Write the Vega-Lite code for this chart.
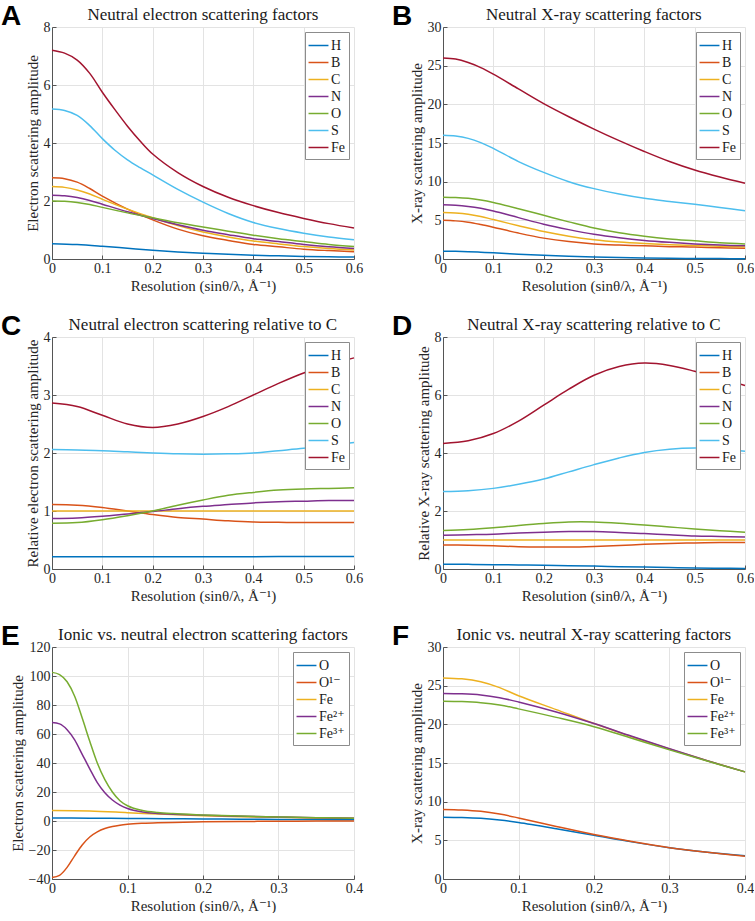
{
  "$schema": "https://vega.github.io/schema/vega-lite/v6.json",
  "background": "white",
  "padding": {"left": 1, "top": 3, "right": 0, "bottom": 0},
  "spacing": 20,
  "resolve": {"scale": {"x": "independent", "y": "independent", "color": "independent"}, "axis": {"x": "independent", "y": "independent"}, "legend": {"color": "independent"}},
  "datasets": {
    "a": [
      {"s":0,"v":0.53,"el":"H"},{"s":0.05,"v":0.5,"el":"H"},{"s":0.1,"v":0.44,"el":"H"},{"s":0.15,"v":0.37,"el":"H"},{"s":0.2,"v":0.3,"el":"H"},{"s":0.25,"v":0.245,"el":"H"},{"s":0.3,"v":0.2,"el":"H"},{"s":0.35,"v":0.16,"el":"H"},{"s":0.4,"v":0.13,"el":"H"},{"s":0.45,"v":0.11,"el":"H"},{"s":0.5,"v":0.09,"el":"H"},{"s":0.55,"v":0.077,"el":"H"},{"s":0.6,"v":0.066,"el":"H"},
      {"s":0,"v":2.8,"el":"B"},{"s":0.025,"v":2.77,"el":"B"},{"s":0.05,"v":2.65,"el":"B"},{"s":0.075,"v":2.43,"el":"B"},{"s":0.1,"v":2.17,"el":"B"},{"s":0.15,"v":1.72,"el":"B"},{"s":0.2,"v":1.35,"el":"B"},{"s":0.25,"v":1.03,"el":"B"},{"s":0.3,"v":0.8,"el":"B"},{"s":0.35,"v":0.64,"el":"B"},{"s":0.4,"v":0.5,"el":"B"},{"s":0.45,"v":0.42,"el":"B"},{"s":0.5,"v":0.34,"el":"B"},{"s":0.55,"v":0.29,"el":"B"},{"s":0.6,"v":0.25,"el":"B"},
      {"s":0,"v":2.5,"el":"C"},{"s":0.025,"v":2.47,"el":"C"},{"s":0.05,"v":2.38,"el":"C"},{"s":0.075,"v":2.24,"el":"C"},{"s":0.1,"v":2.06,"el":"C"},{"s":0.15,"v":1.72,"el":"C"},{"s":0.2,"v":1.42,"el":"C"},{"s":0.25,"v":1.15,"el":"C"},{"s":0.3,"v":0.93,"el":"C"},{"s":0.35,"v":0.76,"el":"C"},{"s":0.4,"v":0.62,"el":"C"},{"s":0.45,"v":0.52,"el":"C"},{"s":0.5,"v":0.43,"el":"C"},{"s":0.55,"v":0.36,"el":"C"},{"s":0.6,"v":0.31,"el":"C"},
      {"s":0,"v":2.2,"el":"N"},{"s":0.025,"v":2.18,"el":"N"},{"s":0.05,"v":2.12,"el":"N"},{"s":0.075,"v":2.02,"el":"N"},{"s":0.1,"v":1.89,"el":"N"},{"s":0.15,"v":1.63,"el":"N"},{"s":0.2,"v":1.4,"el":"N"},{"s":0.25,"v":1.18,"el":"N"},{"s":0.3,"v":0.99,"el":"N"},{"s":0.35,"v":0.84,"el":"N"},{"s":0.4,"v":0.7,"el":"N"},{"s":0.45,"v":0.6,"el":"N"},{"s":0.5,"v":0.5,"el":"N"},{"s":0.55,"v":0.42,"el":"N"},{"s":0.6,"v":0.36,"el":"N"},
      {"s":0,"v":2.0,"el":"O"},{"s":0.025,"v":1.99,"el":"O"},{"s":0.05,"v":1.95,"el":"O"},{"s":0.075,"v":1.88,"el":"O"},{"s":0.1,"v":1.78,"el":"O"},{"s":0.15,"v":1.59,"el":"O"},{"s":0.2,"v":1.42,"el":"O"},{"s":0.25,"v":1.25,"el":"O"},{"s":0.3,"v":1.1,"el":"O"},{"s":0.35,"v":0.96,"el":"O"},{"s":0.4,"v":0.82,"el":"O"},{"s":0.45,"v":0.7,"el":"O"},{"s":0.5,"v":0.6,"el":"O"},{"s":0.55,"v":0.5,"el":"O"},{"s":0.6,"v":0.43,"el":"O"},
      {"s":0,"v":5.17,"el":"S"},{"s":0.025,"v":5.12,"el":"S"},{"s":0.05,"v":4.95,"el":"S"},{"s":0.075,"v":4.6,"el":"S"},{"s":0.1,"v":4.15,"el":"S"},{"s":0.125,"v":3.75,"el":"S"},{"s":0.15,"v":3.42,"el":"S"},{"s":0.175,"v":3.15,"el":"S"},{"s":0.2,"v":2.9,"el":"S"},{"s":0.25,"v":2.4,"el":"S"},{"s":0.3,"v":1.96,"el":"S"},{"s":0.35,"v":1.57,"el":"S"},{"s":0.4,"v":1.26,"el":"S"},{"s":0.45,"v":1.05,"el":"S"},{"s":0.5,"v":0.89,"el":"S"},{"s":0.55,"v":0.76,"el":"S"},{"s":0.6,"v":0.66,"el":"S"},
      {"s":0,"v":7.2,"el":"Fe"},{"s":0.025,"v":7.1,"el":"Fe"},{"s":0.05,"v":6.86,"el":"Fe"},{"s":0.075,"v":6.4,"el":"Fe"},{"s":0.1,"v":5.75,"el":"Fe"},{"s":0.125,"v":5.15,"el":"Fe"},{"s":0.15,"v":4.58,"el":"Fe"},{"s":0.175,"v":4.07,"el":"Fe"},{"s":0.2,"v":3.62,"el":"Fe"},{"s":0.25,"v":2.98,"el":"Fe"},{"s":0.3,"v":2.5,"el":"Fe"},{"s":0.35,"v":2.13,"el":"Fe"},{"s":0.4,"v":1.84,"el":"Fe"},{"s":0.45,"v":1.6,"el":"Fe"},{"s":0.5,"v":1.4,"el":"Fe"},{"s":0.55,"v":1.22,"el":"Fe"},{"s":0.6,"v":1.07,"el":"Fe"}
    ],
    "b": [
      {"s":0,"v":1.0,"el":"H"},{"s":0.025,"v":0.99,"el":"H"},{"s":0.05,"v":0.95,"el":"H"},{"s":0.075,"v":0.88,"el":"H"},{"s":0.1,"v":0.8,"el":"H"},{"s":0.15,"v":0.62,"el":"H"},{"s":0.2,"v":0.47,"el":"H"},{"s":0.25,"v":0.34,"el":"H"},{"s":0.3,"v":0.25,"el":"H"},{"s":0.35,"v":0.18,"el":"H"},{"s":0.4,"v":0.13,"el":"H"},{"s":0.45,"v":0.09,"el":"H"},{"s":0.5,"v":0.07,"el":"H"},{"s":0.55,"v":0.05,"el":"H"},{"s":0.6,"v":0.04,"el":"H"},
      {"s":0,"v":5.0,"el":"B"},{"s":0.025,"v":4.93,"el":"B"},{"s":0.05,"v":4.75,"el":"B"},{"s":0.075,"v":4.45,"el":"B"},{"s":0.1,"v":4.1,"el":"B"},{"s":0.15,"v":3.35,"el":"B"},{"s":0.2,"v":2.7,"el":"B"},{"s":0.25,"v":2.25,"el":"B"},{"s":0.3,"v":1.95,"el":"B"},{"s":0.35,"v":1.8,"el":"B"},{"s":0.4,"v":1.7,"el":"B"},{"s":0.45,"v":1.6,"el":"B"},{"s":0.5,"v":1.55,"el":"B"},{"s":0.55,"v":1.45,"el":"B"},{"s":0.6,"v":1.4,"el":"B"},
      {"s":0,"v":6.0,"el":"C"},{"s":0.025,"v":5.95,"el":"C"},{"s":0.05,"v":5.8,"el":"C"},{"s":0.075,"v":5.5,"el":"C"},{"s":0.1,"v":5.1,"el":"C"},{"s":0.15,"v":4.3,"el":"C"},{"s":0.2,"v":3.55,"el":"C"},{"s":0.25,"v":2.95,"el":"C"},{"s":0.3,"v":2.5,"el":"C"},{"s":0.35,"v":2.2,"el":"C"},{"s":0.4,"v":2.0,"el":"C"},{"s":0.45,"v":1.85,"el":"C"},{"s":0.5,"v":1.75,"el":"C"},{"s":0.55,"v":1.65,"el":"C"},{"s":0.6,"v":1.55,"el":"C"},
      {"s":0,"v":7.0,"el":"N"},{"s":0.025,"v":6.95,"el":"N"},{"s":0.05,"v":6.8,"el":"N"},{"s":0.075,"v":6.55,"el":"N"},{"s":0.1,"v":6.2,"el":"N"},{"s":0.15,"v":5.35,"el":"N"},{"s":0.2,"v":4.5,"el":"N"},{"s":0.25,"v":3.8,"el":"N"},{"s":0.3,"v":3.2,"el":"N"},{"s":0.35,"v":2.75,"el":"N"},{"s":0.4,"v":2.4,"el":"N"},{"s":0.45,"v":2.15,"el":"N"},{"s":0.5,"v":1.95,"el":"N"},{"s":0.55,"v":1.8,"el":"N"},{"s":0.6,"v":1.7,"el":"N"},
      {"s":0,"v":8.0,"el":"O"},{"s":0.025,"v":7.96,"el":"O"},{"s":0.05,"v":7.85,"el":"O"},{"s":0.075,"v":7.62,"el":"O"},{"s":0.1,"v":7.3,"el":"O"},{"s":0.15,"v":6.5,"el":"O"},{"s":0.2,"v":5.65,"el":"O"},{"s":0.25,"v":4.8,"el":"O"},{"s":0.3,"v":4.0,"el":"O"},{"s":0.35,"v":3.4,"el":"O"},{"s":0.4,"v":2.95,"el":"O"},{"s":0.45,"v":2.6,"el":"O"},{"s":0.5,"v":2.35,"el":"O"},{"s":0.55,"v":2.1,"el":"O"},{"s":0.6,"v":1.95,"el":"O"},
      {"s":0,"v":16.0,"el":"S"},{"s":0.025,"v":15.9,"el":"S"},{"s":0.05,"v":15.6,"el":"S"},{"s":0.075,"v":15.05,"el":"S"},{"s":0.1,"v":14.3,"el":"S"},{"s":0.15,"v":12.6,"el":"S"},{"s":0.2,"v":11.2,"el":"S"},{"s":0.25,"v":10.0,"el":"S"},{"s":0.3,"v":9.1,"el":"S"},{"s":0.35,"v":8.4,"el":"S"},{"s":0.4,"v":7.85,"el":"S"},{"s":0.45,"v":7.45,"el":"S"},{"s":0.5,"v":7.08,"el":"S"},{"s":0.55,"v":6.65,"el":"S"},{"s":0.6,"v":6.25,"el":"S"},
      {"s":0,"v":26.0,"el":"Fe"},{"s":0.025,"v":25.85,"el":"Fe"},{"s":0.05,"v":25.4,"el":"Fe"},{"s":0.075,"v":24.75,"el":"Fe"},{"s":0.1,"v":23.9,"el":"Fe"},{"s":0.15,"v":22.0,"el":"Fe"},{"s":0.2,"v":20.1,"el":"Fe"},{"s":0.25,"v":18.4,"el":"Fe"},{"s":0.3,"v":16.8,"el":"Fe"},{"s":0.35,"v":15.3,"el":"Fe"},{"s":0.4,"v":13.9,"el":"Fe"},{"s":0.45,"v":12.6,"el":"Fe"},{"s":0.5,"v":11.5,"el":"Fe"},{"s":0.55,"v":10.6,"el":"Fe"},{"s":0.6,"v":9.8,"el":"Fe"}
    ],
    "c": [
      {"s":0,"v":0.21,"el":"H"},{"s":0.1,"v":0.21,"el":"H"},{"s":0.2,"v":0.21,"el":"H"},{"s":0.3,"v":0.212,"el":"H"},{"s":0.4,"v":0.213,"el":"H"},{"s":0.5,"v":0.214,"el":"H"},{"s":0.6,"v":0.215,"el":"H"},
      {"s":0,"v":1.11,"el":"B"},{"s":0.05,"v":1.1,"el":"B"},{"s":0.1,"v":1.06,"el":"B"},{"s":0.15,"v":1.0,"el":"B"},{"s":0.2,"v":0.94,"el":"B"},{"s":0.25,"v":0.89,"el":"B"},{"s":0.3,"v":0.86,"el":"B"},{"s":0.35,"v":0.83,"el":"B"},{"s":0.4,"v":0.81,"el":"B"},{"s":0.45,"v":0.805,"el":"B"},{"s":0.5,"v":0.8,"el":"B"},{"s":0.55,"v":0.8,"el":"B"},{"s":0.6,"v":0.8,"el":"B"},
      {"s":0,"v":1.0,"el":"C"},{"s":0.3,"v":1.0,"el":"C"},{"s":0.6,"v":1.0,"el":"C"},
      {"s":0,"v":0.87,"el":"N"},{"s":0.05,"v":0.88,"el":"N"},{"s":0.1,"v":0.91,"el":"N"},{"s":0.15,"v":0.95,"el":"N"},{"s":0.2,"v":0.99,"el":"N"},{"s":0.25,"v":1.04,"el":"N"},{"s":0.3,"v":1.08,"el":"N"},{"s":0.35,"v":1.11,"el":"N"},{"s":0.4,"v":1.14,"el":"N"},{"s":0.45,"v":1.16,"el":"N"},{"s":0.5,"v":1.17,"el":"N"},{"s":0.55,"v":1.18,"el":"N"},{"s":0.6,"v":1.18,"el":"N"},
      {"s":0,"v":0.79,"el":"O"},{"s":0.05,"v":0.8,"el":"O"},{"s":0.1,"v":0.85,"el":"O"},{"s":0.15,"v":0.92,"el":"O"},{"s":0.2,"v":1.0,"el":"O"},{"s":0.25,"v":1.1,"el":"O"},{"s":0.3,"v":1.19,"el":"O"},{"s":0.35,"v":1.27,"el":"O"},{"s":0.4,"v":1.32,"el":"O"},{"s":0.45,"v":1.36,"el":"O"},{"s":0.5,"v":1.38,"el":"O"},{"s":0.55,"v":1.39,"el":"O"},{"s":0.6,"v":1.4,"el":"O"},
      {"s":0,"v":2.06,"el":"S"},{"s":0.05,"v":2.05,"el":"S"},{"s":0.1,"v":2.04,"el":"S"},{"s":0.15,"v":2.02,"el":"S"},{"s":0.2,"v":2.0,"el":"S"},{"s":0.25,"v":1.985,"el":"S"},{"s":0.3,"v":1.98,"el":"S"},{"s":0.35,"v":1.985,"el":"S"},{"s":0.4,"v":2.0,"el":"S"},{"s":0.45,"v":2.04,"el":"S"},{"s":0.5,"v":2.08,"el":"S"},{"s":0.55,"v":2.13,"el":"S"},{"s":0.6,"v":2.18,"el":"S"},
      {"s":0,"v":2.86,"el":"Fe"},{"s":0.05,"v":2.8,"el":"Fe"},{"s":0.1,"v":2.65,"el":"Fe"},{"s":0.15,"v":2.5,"el":"Fe"},{"s":0.2,"v":2.44,"el":"Fe"},{"s":0.25,"v":2.5,"el":"Fe"},{"s":0.3,"v":2.63,"el":"Fe"},{"s":0.35,"v":2.8,"el":"Fe"},{"s":0.4,"v":3.0,"el":"Fe"},{"s":0.45,"v":3.2,"el":"Fe"},{"s":0.5,"v":3.38,"el":"Fe"},{"s":0.55,"v":3.52,"el":"Fe"},{"s":0.6,"v":3.64,"el":"Fe"}
    ],
    "d": [
      {"s":0,"v":0.16,"el":"H"},{"s":0.05,"v":0.16,"el":"H"},{"s":0.1,"v":0.15,"el":"H"},{"s":0.15,"v":0.14,"el":"H"},{"s":0.2,"v":0.13,"el":"H"},{"s":0.25,"v":0.11,"el":"H"},{"s":0.3,"v":0.1,"el":"H"},{"s":0.35,"v":0.08,"el":"H"},{"s":0.4,"v":0.065,"el":"H"},{"s":0.45,"v":0.05,"el":"H"},{"s":0.5,"v":0.035,"el":"H"},{"s":0.55,"v":0.025,"el":"H"},{"s":0.6,"v":0.02,"el":"H"},
      {"s":0,"v":0.83,"el":"B"},{"s":0.05,"v":0.82,"el":"B"},{"s":0.1,"v":0.8,"el":"B"},{"s":0.15,"v":0.77,"el":"B"},{"s":0.2,"v":0.76,"el":"B"},{"s":0.25,"v":0.76,"el":"B"},{"s":0.3,"v":0.78,"el":"B"},{"s":0.35,"v":0.81,"el":"B"},{"s":0.4,"v":0.85,"el":"B"},{"s":0.45,"v":0.88,"el":"B"},{"s":0.5,"v":0.9,"el":"B"},{"s":0.55,"v":0.91,"el":"B"},{"s":0.6,"v":0.91,"el":"B"},
      {"s":0,"v":1.0,"el":"C"},{"s":0.3,"v":1.0,"el":"C"},{"s":0.6,"v":1.0,"el":"C"},
      {"s":0,"v":1.16,"el":"N"},{"s":0.05,"v":1.18,"el":"N"},{"s":0.1,"v":1.2,"el":"N"},{"s":0.15,"v":1.24,"el":"N"},{"s":0.2,"v":1.27,"el":"N"},{"s":0.25,"v":1.29,"el":"N"},{"s":0.3,"v":1.29,"el":"N"},{"s":0.35,"v":1.26,"el":"N"},{"s":0.4,"v":1.22,"el":"N"},{"s":0.45,"v":1.18,"el":"N"},{"s":0.5,"v":1.14,"el":"N"},{"s":0.55,"v":1.12,"el":"N"},{"s":0.6,"v":1.1,"el":"N"},
      {"s":0,"v":1.33,"el":"O"},{"s":0.05,"v":1.36,"el":"O"},{"s":0.1,"v":1.42,"el":"O"},{"s":0.15,"v":1.5,"el":"O"},{"s":0.2,"v":1.57,"el":"O"},{"s":0.25,"v":1.62,"el":"O"},{"s":0.3,"v":1.62,"el":"O"},{"s":0.35,"v":1.58,"el":"O"},{"s":0.4,"v":1.52,"el":"O"},{"s":0.45,"v":1.45,"el":"O"},{"s":0.5,"v":1.38,"el":"O"},{"s":0.55,"v":1.32,"el":"O"},{"s":0.6,"v":1.27,"el":"O"},
      {"s":0,"v":2.67,"el":"S"},{"s":0.05,"v":2.7,"el":"S"},{"s":0.1,"v":2.78,"el":"S"},{"s":0.15,"v":2.92,"el":"S"},{"s":0.2,"v":3.1,"el":"S"},{"s":0.25,"v":3.35,"el":"S"},{"s":0.3,"v":3.6,"el":"S"},{"s":0.35,"v":3.83,"el":"S"},{"s":0.4,"v":4.02,"el":"S"},{"s":0.45,"v":4.13,"el":"S"},{"s":0.5,"v":4.17,"el":"S"},{"s":0.55,"v":4.14,"el":"S"},{"s":0.6,"v":4.06,"el":"S"},
      {"s":0,"v":4.33,"el":"Fe"},{"s":0.05,"v":4.42,"el":"Fe"},{"s":0.1,"v":4.67,"el":"Fe"},{"s":0.15,"v":5.1,"el":"Fe"},{"s":0.2,"v":5.65,"el":"Fe"},{"s":0.25,"v":6.2,"el":"Fe"},{"s":0.3,"v":6.68,"el":"Fe"},{"s":0.35,"v":6.98,"el":"Fe"},{"s":0.4,"v":7.1,"el":"Fe"},{"s":0.45,"v":7.02,"el":"Fe"},{"s":0.5,"v":6.82,"el":"Fe"},{"s":0.55,"v":6.58,"el":"Fe"},{"s":0.6,"v":6.33,"el":"Fe"}
    ],
    "e": [
      {"s":0,"v":2.0,"el":"O"},{"s":0.05,"v":1.95,"el":"O"},{"s":0.1,"v":1.78,"el":"O"},{"s":0.15,"v":1.59,"el":"O"},{"s":0.2,"v":1.42,"el":"O"},{"s":0.25,"v":1.25,"el":"O"},{"s":0.3,"v":1.1,"el":"O"},{"s":0.35,"v":0.96,"el":"O"},{"s":0.4,"v":0.82,"el":"O"},
      {"s":0,"v":-39,"el":"O¹⁻"},{"s":0.01,"v":-37.5,"el":"O¹⁻"},{"s":0.02,"v":-32,"el":"O¹⁻"},{"s":0.03,"v":-24,"el":"O¹⁻"},{"s":0.04,"v":-16.5,"el":"O¹⁻"},{"s":0.05,"v":-11,"el":"O¹⁻"},{"s":0.06,"v":-7.5,"el":"O¹⁻"},{"s":0.07,"v":-5.2,"el":"O¹⁻"},{"s":0.08,"v":-3.8,"el":"O¹⁻"},{"s":0.09,"v":-2.9,"el":"O¹⁻"},{"s":0.1,"v":-2.3,"el":"O¹⁻"},{"s":0.12,"v":-1.6,"el":"O¹⁻"},{"s":0.14,"v":-1.2,"el":"O¹⁻"},{"s":0.16,"v":-0.95,"el":"O¹⁻"},{"s":0.2,"v":-0.6,"el":"O¹⁻"},{"s":0.25,"v":-0.35,"el":"O¹⁻"},{"s":0.3,"v":-0.15,"el":"O¹⁻"},{"s":0.35,"v":-0.05,"el":"O¹⁻"},{"s":0.4,"v":0.05,"el":"O¹⁻"},
      {"s":0,"v":7.2,"el":"Fe"},{"s":0.05,"v":6.86,"el":"Fe"},{"s":0.1,"v":5.75,"el":"Fe"},{"s":0.15,"v":4.58,"el":"Fe"},{"s":0.2,"v":3.62,"el":"Fe"},{"s":0.25,"v":2.98,"el":"Fe"},{"s":0.3,"v":2.5,"el":"Fe"},{"s":0.35,"v":2.13,"el":"Fe"},{"s":0.4,"v":1.84,"el":"Fe"},
      {"s":0,"v":68,"el":"Fe²⁺"},{"s":0.01,"v":67,"el":"Fe²⁺"},{"s":0.02,"v":63,"el":"Fe²⁺"},{"s":0.03,"v":56,"el":"Fe²⁺"},{"s":0.04,"v":46,"el":"Fe²⁺"},{"s":0.05,"v":36,"el":"Fe²⁺"},{"s":0.06,"v":26.5,"el":"Fe²⁺"},{"s":0.07,"v":19.5,"el":"Fe²⁺"},{"s":0.08,"v":14.5,"el":"Fe²⁺"},{"s":0.09,"v":11,"el":"Fe²⁺"},{"s":0.1,"v":8.6,"el":"Fe²⁺"},{"s":0.12,"v":6.2,"el":"Fe²⁺"},{"s":0.14,"v":5.2,"el":"Fe²⁺"},{"s":0.16,"v":4.7,"el":"Fe²⁺"},{"s":0.2,"v":3.95,"el":"Fe²⁺"},{"s":0.25,"v":3.25,"el":"Fe²⁺"},{"s":0.3,"v":2.72,"el":"Fe²⁺"},{"s":0.35,"v":2.28,"el":"Fe²⁺"},{"s":0.4,"v":1.93,"el":"Fe²⁺"},
      {"s":0,"v":102.5,"el":"Fe³⁺"},{"s":0.01,"v":101,"el":"Fe³⁺"},{"s":0.02,"v":96,"el":"Fe³⁺"},{"s":0.03,"v":86,"el":"Fe³⁺"},{"s":0.04,"v":71,"el":"Fe³⁺"},{"s":0.05,"v":55,"el":"Fe³⁺"},{"s":0.06,"v":40,"el":"Fe³⁺"},{"s":0.07,"v":28.5,"el":"Fe³⁺"},{"s":0.08,"v":20,"el":"Fe³⁺"},{"s":0.09,"v":14,"el":"Fe³⁺"},{"s":0.1,"v":10.5,"el":"Fe³⁺"},{"s":0.12,"v":7.3,"el":"Fe³⁺"},{"s":0.14,"v":5.9,"el":"Fe³⁺"},{"s":0.16,"v":5.1,"el":"Fe³⁺"},{"s":0.2,"v":4.2,"el":"Fe³⁺"},{"s":0.25,"v":3.4,"el":"Fe³⁺"},{"s":0.3,"v":2.8,"el":"Fe³⁺"},{"s":0.35,"v":2.32,"el":"Fe³⁺"},{"s":0.4,"v":1.96,"el":"Fe³⁺"}
    ],
    "f": [
      {"s":0,"v":8.0,"el":"O"},{"s":0.025,"v":7.96,"el":"O"},{"s":0.05,"v":7.85,"el":"O"},{"s":0.075,"v":7.62,"el":"O"},{"s":0.1,"v":7.3,"el":"O"},{"s":0.15,"v":6.5,"el":"O"},{"s":0.2,"v":5.65,"el":"O"},{"s":0.25,"v":4.8,"el":"O"},{"s":0.3,"v":4.05,"el":"O"},{"s":0.35,"v":3.45,"el":"O"},{"s":0.4,"v":3.0,"el":"O"},
      {"s":0,"v":9.0,"el":"O¹⁻"},{"s":0.025,"v":8.93,"el":"O¹⁻"},{"s":0.05,"v":8.75,"el":"O¹⁻"},{"s":0.075,"v":8.4,"el":"O¹⁻"},{"s":0.1,"v":7.9,"el":"O¹⁻"},{"s":0.15,"v":6.8,"el":"O¹⁻"},{"s":0.2,"v":5.75,"el":"O¹⁻"},{"s":0.25,"v":4.85,"el":"O¹⁻"},{"s":0.3,"v":4.05,"el":"O¹⁻"},{"s":0.35,"v":3.45,"el":"O¹⁻"},{"s":0.4,"v":2.95,"el":"O¹⁻"},
      {"s":0,"v":26.0,"el":"Fe"},{"s":0.025,"v":25.88,"el":"Fe"},{"s":0.05,"v":25.5,"el":"Fe"},{"s":0.075,"v":24.75,"el":"Fe"},{"s":0.1,"v":23.7,"el":"Fe"},{"s":0.15,"v":21.9,"el":"Fe"},{"s":0.2,"v":20.1,"el":"Fe"},{"s":0.25,"v":18.4,"el":"Fe"},{"s":0.3,"v":16.8,"el":"Fe"},{"s":0.35,"v":15.3,"el":"Fe"},{"s":0.4,"v":13.85,"el":"Fe"},
      {"s":0,"v":24.0,"el":"Fe²⁺"},{"s":0.025,"v":23.95,"el":"Fe²⁺"},{"s":0.05,"v":23.8,"el":"Fe²⁺"},{"s":0.075,"v":23.45,"el":"Fe²⁺"},{"s":0.1,"v":22.9,"el":"Fe²⁺"},{"s":0.15,"v":21.6,"el":"Fe²⁺"},{"s":0.2,"v":20.1,"el":"Fe²⁺"},{"s":0.25,"v":18.45,"el":"Fe²⁺"},{"s":0.3,"v":16.85,"el":"Fe²⁺"},{"s":0.35,"v":15.3,"el":"Fe²⁺"},{"s":0.4,"v":13.85,"el":"Fe²⁺"},
      {"s":0,"v":23.0,"el":"Fe³⁺"},{"s":0.025,"v":22.95,"el":"Fe³⁺"},{"s":0.05,"v":22.8,"el":"Fe³⁺"},{"s":0.075,"v":22.5,"el":"Fe³⁺"},{"s":0.1,"v":22.0,"el":"Fe³⁺"},{"s":0.15,"v":20.9,"el":"Fe³⁺"},{"s":0.2,"v":19.7,"el":"Fe³⁺"},{"s":0.25,"v":18.2,"el":"Fe³⁺"},{"s":0.3,"v":16.7,"el":"Fe³⁺"},{"s":0.35,"v":15.25,"el":"Fe³⁺"},{"s":0.4,"v":13.85,"el":"Fe³⁺"}
    ]
  },
  "vconcat": [
    {
      "spacing": 29,
      "resolve": {"scale": {"x": "independent", "y": "independent", "color": "independent"}, "axis": {"x": "independent", "y": "independent"}, "legend": {"color": "independent"}},
      "hconcat": [
        {
          "title": {"text": "Neutral electron scattering factors", "dx": 21, "offset": -21},
          "resolve": {"scale": {"x": "independent", "y": "independent", "color": "independent"}, "legend": {"color": "independent"}},
          "vconcat": [{
            "title": {"text": "A", "anchor": "start", "frame": "group", "dx": -51, "offset": -33, "baseline": "alphabetic", "font": "Liberation Sans", "fontSize": 28, "fontWeight": "bold", "color": "black"},
            "width": 302, "height": 232,
            "data": {"name": "a"},
            "mark": {"type": "line", "interpolate": "catmull-rom", "strokeWidth": 1.5},
            "encoding": {
              "x": {"field": "s", "type": "quantitative", "scale": {"domain": [0, 0.6], "nice": false, "zero": false}, "axis": {"values": [0, 0.1, 0.2, 0.3, 0.4, 0.5, 0.6], "title": "Resolution (sinθ/λ, Å⁻¹)"}},
              "y": {"field": "v", "type": "quantitative", "scale": {"domain": [0, 8], "nice": false}, "axis": {"values": [0, 2, 4, 6, 8], "title": "Electron scattering amplitude"}},
              "color": {"field": "el", "type": "nominal", "scale": {"domain": ["H", "B", "C", "N", "O", "S", "Fe"], "range": ["#0072BD", "#D95319", "#EDB120", "#7E2F8E", "#77AC30", "#4DBEEE", "#A2142F"]}, "legend": {"orient": "top-right"}}
            }
          }]
        },
        {
          "title": {"text": "Neutral X-ray scattering factors", "dx": 21, "offset": -21},
          "resolve": {"scale": {"x": "independent", "y": "independent", "color": "independent"}, "legend": {"color": "independent"}},
          "vconcat": [{
            "title": {"text": "B", "anchor": "start", "frame": "group", "dx": -51, "offset": -33, "baseline": "alphabetic", "font": "Liberation Sans", "fontSize": 28, "fontWeight": "bold", "color": "black"},
            "width": 302, "height": 232,
            "data": {"name": "b"},
            "mark": {"type": "line", "interpolate": "catmull-rom", "strokeWidth": 1.5},
            "encoding": {
              "x": {"field": "s", "type": "quantitative", "scale": {"domain": [0, 0.6], "nice": false, "zero": false}, "axis": {"values": [0, 0.1, 0.2, 0.3, 0.4, 0.5, 0.6], "title": "Resolution (sinθ/λ, Å⁻¹)"}},
              "y": {"field": "v", "type": "quantitative", "scale": {"domain": [0, 30], "nice": false}, "axis": {"values": [0, 5, 10, 15, 20, 25, 30], "title": "X-ray scattering amplitude"}},
              "color": {"field": "el", "type": "nominal", "scale": {"domain": ["H", "B", "C", "N", "O", "S", "Fe"], "range": ["#0072BD", "#D95319", "#EDB120", "#7E2F8E", "#77AC30", "#4DBEEE", "#A2142F"]}, "legend": {"orient": "top-right"}}
            }
          }]
        }
      ]
    },
    {
      "spacing": 29,
      "resolve": {"scale": {"x": "independent", "y": "independent", "color": "independent"}, "axis": {"x": "independent", "y": "independent"}, "legend": {"color": "independent"}},
      "hconcat": [
        {
          "title": {"text": "Neutral electron scattering relative to C", "dx": 21, "offset": -21},
          "resolve": {"scale": {"x": "independent", "y": "independent", "color": "independent"}, "legend": {"color": "independent"}},
          "vconcat": [{
            "title": {"text": "C", "anchor": "start", "frame": "group", "dx": -51, "offset": -33, "baseline": "alphabetic", "font": "Liberation Sans", "fontSize": 28, "fontWeight": "bold", "color": "black"},
            "width": 302, "height": 232,
            "data": {"name": "c"},
            "mark": {"type": "line", "interpolate": "catmull-rom", "strokeWidth": 1.5},
            "encoding": {
              "x": {"field": "s", "type": "quantitative", "scale": {"domain": [0, 0.6], "nice": false, "zero": false}, "axis": {"values": [0, 0.1, 0.2, 0.3, 0.4, 0.5, 0.6], "title": "Resolution (sinθ/λ, Å⁻¹)"}},
              "y": {"field": "v", "type": "quantitative", "scale": {"domain": [0, 4], "nice": false}, "axis": {"values": [0, 1, 2, 3, 4], "title": "Relative electron scattering amplitude"}},
              "color": {"field": "el", "type": "nominal", "scale": {"domain": ["H", "B", "C", "N", "O", "S", "Fe"], "range": ["#0072BD", "#D95319", "#EDB120", "#7E2F8E", "#77AC30", "#4DBEEE", "#A2142F"]}, "legend": {"orient": "top-right"}}
            }
          }]
        },
        {
          "title": {"text": "Neutral X-ray scattering relative to C", "dx": 21, "offset": -21},
          "resolve": {"scale": {"x": "independent", "y": "independent", "color": "independent"}, "legend": {"color": "independent"}},
          "vconcat": [{
            "title": {"text": "D", "anchor": "start", "frame": "group", "dx": -51, "offset": -33, "baseline": "alphabetic", "font": "Liberation Sans", "fontSize": 28, "fontWeight": "bold", "color": "black"},
            "width": 302, "height": 232,
            "data": {"name": "d"},
            "mark": {"type": "line", "interpolate": "catmull-rom", "strokeWidth": 1.5},
            "encoding": {
              "x": {"field": "s", "type": "quantitative", "scale": {"domain": [0, 0.6], "nice": false, "zero": false}, "axis": {"values": [0, 0.1, 0.2, 0.3, 0.4, 0.5, 0.6], "title": "Resolution (sinθ/λ, Å⁻¹)"}},
              "y": {"field": "v", "type": "quantitative", "scale": {"domain": [0, 8], "nice": false}, "axis": {"values": [0, 2, 4, 6, 8], "title": "Relative X-ray scattering amplitude"}},
              "color": {"field": "el", "type": "nominal", "scale": {"domain": ["H", "B", "C", "N", "O", "S", "Fe"], "range": ["#0072BD", "#D95319", "#EDB120", "#7E2F8E", "#77AC30", "#4DBEEE", "#A2142F"]}, "legend": {"orient": "top-right"}}
            }
          }]
        }
      ]
    },
    {
      "spacing": 29,
      "resolve": {"scale": {"x": "independent", "y": "independent", "color": "independent"}, "axis": {"x": "independent", "y": "independent"}, "legend": {"color": "independent"}},
      "hconcat": [
        {
          "title": {"text": "Ionic vs. neutral electron scattering factors", "dx": 21, "offset": -21},
          "resolve": {"scale": {"x": "independent", "y": "independent", "color": "independent"}, "legend": {"color": "independent"}},
          "vconcat": [{
            "title": {"text": "E", "anchor": "start", "frame": "group", "dx": -51, "offset": -33, "baseline": "alphabetic", "font": "Liberation Sans", "fontSize": 28, "fontWeight": "bold", "color": "black"},
            "width": 302, "height": 232,
            "data": {"name": "e"},
            "mark": {"type": "line", "interpolate": "monotone", "strokeWidth": 1.5},
            "encoding": {
              "x": {"field": "s", "type": "quantitative", "scale": {"domain": [0, 0.4], "nice": false, "zero": false}, "axis": {"values": [0, 0.1, 0.2, 0.3, 0.4], "title": "Resolution (sinθ/λ, Å⁻¹)"}},
              "y": {"field": "v", "type": "quantitative", "scale": {"domain": [-40, 120], "nice": false}, "axis": {"values": [-40, -20, 0, 20, 40, 60, 80, 100, 120], "title": "Electron scattering amplitude", "maxExtent": 30}},
              "color": {"field": "el", "type": "nominal", "scale": {"domain": ["O", "O¹⁻", "Fe", "Fe²⁺", "Fe³⁺"], "range": ["#0072BD", "#D95319", "#EDB120", "#7E2F8E", "#77AC30"]}, "legend": {"orient": "top-right"}}
            }
          }]
        },
        {
          "title": {"text": "Ionic vs. neutral X-ray scattering factors", "dx": 21, "offset": -21},
          "resolve": {"scale": {"x": "independent", "y": "independent", "color": "independent"}, "legend": {"color": "independent"}},
          "vconcat": [{
            "title": {"text": "F", "anchor": "start", "frame": "group", "dx": -51, "offset": -33, "baseline": "alphabetic", "font": "Liberation Sans", "fontSize": 28, "fontWeight": "bold", "color": "black"},
            "width": 302, "height": 232,
            "data": {"name": "f"},
            "mark": {"type": "line", "interpolate": "catmull-rom", "strokeWidth": 1.5},
            "encoding": {
              "x": {"field": "s", "type": "quantitative", "scale": {"domain": [0, 0.4], "nice": false, "zero": false}, "axis": {"values": [0, 0.1, 0.2, 0.3, 0.4], "title": "Resolution (sinθ/λ, Å⁻¹)"}},
              "y": {"field": "v", "type": "quantitative", "scale": {"domain": [0, 30], "nice": false}, "axis": {"values": [0, 5, 10, 15, 20, 25, 30], "title": "X-ray scattering amplitude"}},
              "color": {"field": "el", "type": "nominal", "scale": {"domain": ["O", "O¹⁻", "Fe", "Fe²⁺", "Fe³⁺"], "range": ["#0072BD", "#D95319", "#EDB120", "#7E2F8E", "#77AC30"]}, "legend": {"orient": "top-right"}}
            }
          }]
        }
      ]
    }
  ],
  "config": {
    "font": "Liberation Serif, DejaVu Serif, serif",
    "view": {"stroke": null},
    "concat": {"spacing": 29},
    "title": {"font": "Liberation Serif, DejaVu Serif, serif", "fontSize": 17, "fontWeight": "normal", "color": "#1a1a1a", "anchor": "middle", "frame": "bounds", "baseline": "alphabetic"},
    "axis": {
      "labelFont": "Liberation Serif, DejaVu Serif, serif", "labelFontSize": 14, "labelColor": "#262626",
      "titleFont": "Liberation Serif, DejaVu Serif, serif", "titleFontSize": 15, "titleFontWeight": "normal", "titleColor": "#262626",
      "domainColor": "#555555", "domainWidth": 1, "tickColor": "#555555", "tickSize": -4,
      "gridColor": "#e3e3e3", "grid": true, "labelPadding": 6, "titlePadding": 3, "format": "~r", "labelFlush": false, "labelOverlap": false
    },
    "legend": {
      "orient": "top-right", "offset": 5, "padding": 4, "strokeColor": "#8c8c8c", "fillColor": "white",
      "labelFont": "Liberation Serif, DejaVu Serif, serif", "labelFontSize": 14, "labelColor": "#1a1a1a",
      "symbolType": "M-1.15,0H1.15", "symbolSize": 300, "symbolStrokeWidth": 1.5, "rowPadding": 0, "labelOffset": 3, "title": null, "cornerRadius": 0
    }
  }
}
